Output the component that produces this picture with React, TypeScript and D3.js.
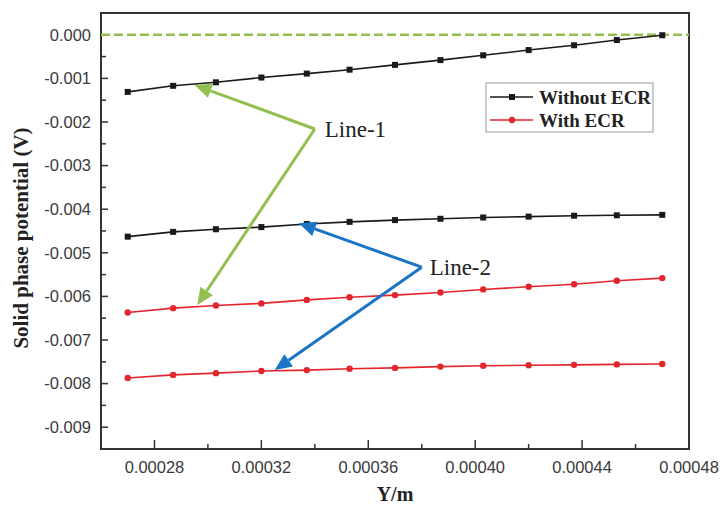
import React, { useEffect, useRef } from "react";
import * as d3 from "d3";

/* DATA */
const yPos = [
  0.00027, 0.000287, 0.000303, 0.00032, 0.000337, 0.000353, 0.00037,
  0.000387, 0.000403, 0.00042, 0.000437, 0.000453, 0.00047,
];
const withoutEcrLine1 = [
  -0.00131, -0.00117, -0.00109, -0.00098, -0.00089, -0.0008, -0.00069,
  -0.00058, -0.00047, -0.00035, -0.00024, -0.00012, -0.00001,
];
const withoutEcrLine2 = [
  -0.00463, -0.00452, -0.00446, -0.00441, -0.00434, -0.00429, -0.00425,
  -0.00422, -0.00419, -0.00417, -0.00415, -0.00414, -0.00413,
];
const withEcrLine1 = [
  -0.00637, -0.00627, -0.00621, -0.00616, -0.00608, -0.00602, -0.00597,
  -0.00591, -0.00584, -0.00578, -0.00572, -0.00564, -0.00558,
];
const withEcrLine2 = [
  -0.00787, -0.0078, -0.00776, -0.00771, -0.00769, -0.00766, -0.00764,
  -0.00761, -0.00759, -0.00758, -0.00757, -0.00756, -0.00755,
];
const xTicks = [0.00028, 0.00032, 0.00036, 0.0004, 0.00044, 0.00048];
const yTicks = [
  0, -0.001, -0.002, -0.003, -0.004, -0.005, -0.006, -0.007, -0.008, -0.009,
];
const legendLabels = ["Without ECR", "With ECR"];

// annotation arrows, in data units: [vertex, tipA, tipB]
const line1Arrow = [
  [0.00034, -0.00216],
  [0.000295, -0.00115],
  [0.000296, -0.0062],
];
const line2Arrow = [
  [0.00038, -0.00533],
  [0.000334, -0.00432],
  [0.000325, -0.00769],
];

const BLACK = "#1a1a1a";
const RED = "#e3262e";
const GREEN = "#92c050";
const BLUE = "#1b74c6";

function App() {
  const chartRef = useRef(null);

  useEffect(() => {
    const svg = d3.select(chartRef.current);
    svg.selectAll("*").remove();

    const margin = { top: 13, left: 101, right: 31, bottom: 58 };
    const width = 720;
    const height = 507;

    const x = d3
      .scaleLinear()
      .domain([0.00026, 0.00048])
      .range([margin.left, width - margin.right]);
    const y = d3
      .scaleLinear()
      .domain([-0.0095, 0.0005])
      .range([height - margin.bottom, margin.top]);

    const bottom = height - margin.bottom;

    // frame
    svg
      .append("rect")
      .attr("x", margin.left)
      .attr("y", margin.top)
      .attr("width", width - margin.left - margin.right)
      .attr("height", bottom - margin.top)
      .attr("fill", "none")
      .attr("stroke", "#333")
      .attr("stroke-width", 2);

    // x axis ticks (inward)
    const xAxis = svg.append("g");
    const xMinor = d3.range(0.0003, 0.00048, 0.00004);
    xAxis
      .selectAll("line.maj")
      .data(xTicks.slice(0, -1))
      .enter()
      .append("line")
      .attr("x1", (d) => x(d))
      .attr("x2", (d) => x(d))
      .attr("y1", bottom)
      .attr("y2", bottom - 9)
      .attr("stroke", "#333")
      .attr("stroke-width", 1.5);
    xAxis
      .selectAll("line.min")
      .data(xMinor)
      .enter()
      .append("line")
      .attr("x1", (d) => x(d))
      .attr("x2", (d) => x(d))
      .attr("y1", bottom)
      .attr("y2", bottom - 5)
      .attr("stroke", "#333")
      .attr("stroke-width", 1.5);
    xAxis
      .selectAll("text")
      .data(xTicks)
      .enter()
      .append("text")
      .attr("x", (d) => x(d))
      .attr("y", bottom + 24)
      .attr("text-anchor", "middle")
      .attr("font-family", "Liberation Sans, Arial, sans-serif")
      .attr("font-size", 16.5)
      .attr("fill", "#3a3a3a")
      .text((d) => d.toFixed(5));

    // y axis ticks (inward)
    const yAxis = svg.append("g");
    const yMinor = d3.range(-0.0085, 0.0005, 0.001);
    yAxis
      .selectAll("line.maj")
      .data(yTicks)
      .enter()
      .append("line")
      .attr("x1", margin.left)
      .attr("x2", margin.left + 7)
      .attr("y1", (d) => y(d))
      .attr("y2", (d) => y(d))
      .attr("stroke", "#333")
      .attr("stroke-width", 1.5);
    yAxis
      .selectAll("line.min")
      .data(yMinor)
      .enter()
      .append("line")
      .attr("x1", margin.left)
      .attr("x2", margin.left + 5)
      .attr("y1", (d) => y(d))
      .attr("y2", (d) => y(d))
      .attr("stroke", "#333")
      .attr("stroke-width", 1.5);
    yAxis
      .selectAll("text")
      .data(yTicks)
      .enter()
      .append("text")
      .attr("x", margin.left - 10)
      .attr("y", (d) => y(d))
      .attr("dy", "0.35em")
      .attr("text-anchor", "end")
      .attr("font-family", "Liberation Sans, Arial, sans-serif")
      .attr("font-size", 16.5)
      .attr("fill", "#3a3a3a")
      .text((d) => (d === 0 ? "0.000" : d.toFixed(3)));

    // titles
    svg
      .append("text")
      .attr("x", (margin.left + width - margin.right) / 2)
      .attr("y", 501)
      .attr("text-anchor", "middle")
      .attr("font-family", "Liberation Serif, Times New Roman, serif")
      .attr("font-weight", "bold")
      .attr("font-size", 20)
      .attr("fill", "#222")
      .text("Y/m");
    svg
      .append("text")
      .attr("transform", "translate(28,238) rotate(-90)")
      .attr("text-anchor", "middle")
      .attr("font-family", "Liberation Serif, Times New Roman, serif")
      .attr("font-weight", "bold")
      .attr("font-size", 21)
      .attr("fill", "#222")
      .text("Solid phase potential (V)");

    // zero reference dashed line
    svg
      .append("line")
      .attr("x1", margin.left)
      .attr("x2", width - margin.right)
      .attr("y1", y(0))
      .attr("y2", y(0))
      .attr("stroke", GREEN)
      .attr("stroke-width", 2.5)
      .attr("stroke-dasharray", "9,4");

    const line = d3
      .line<number>()
      .x((d, i) => x(yPos[i]))
      .y((d) => y(d));

    const drawSeries = (vals: number[], color: string, square: boolean) => {
      const g = svg.append("g");
      g.append("path")
        .attr("d", line(vals))
        .attr("fill", "none")
        .attr("stroke", color)
        .attr("stroke-width", 1.6);
      if (square) {
        g.selectAll("rect")
          .data(vals)
          .enter()
          .append("rect")
          .attr("x", (d, i) => x(yPos[i]) - 3)
          .attr("y", (d) => y(d) - 3)
          .attr("width", 6)
          .attr("height", 6)
          .attr("fill", color);
      } else {
        g.selectAll("circle")
          .data(vals)
          .enter()
          .append("circle")
          .attr("cx", (d, i) => x(yPos[i]))
          .attr("cy", (d) => y(d))
          .attr("r", 3.2)
          .attr("fill", color);
      }
    };

    drawSeries(withoutEcrLine1, BLACK, true);
    drawSeries(withoutEcrLine2, BLACK, true);
    drawSeries(withEcrLine1, RED, false);
    drawSeries(withEcrLine2, RED, false);

    // annotation arrows
    const drawArrow = (pts: number[][], color: string, label: string, dx: number, dy: number) => {
      const [vx, vy] = [x(pts[0][0]), y(pts[0][1])];
      const g = svg.append("g");
      pts.slice(1).forEach((p) => {
        const tx = x(p[0]);
        const ty = y(p[1]);
        const ang = Math.atan2(ty - vy, tx - vx);
        const len = 17;
        const hw = 7.5;
        const bx = tx - len * Math.cos(ang);
        const by = ty - len * Math.sin(ang);
        g.append("line")
          .attr("x1", vx)
          .attr("y1", vy)
          .attr("x2", bx)
          .attr("y2", by)
          .attr("stroke", color)
          .attr("stroke-width", 3);
        const px = -Math.sin(ang);
        const py = Math.cos(ang);
        g.append("path")
          .attr(
            "d",
            `M${tx},${ty}L${bx + hw * px},${by + hw * py}L${bx - hw * px},${by - hw * py}Z`
          )
          .attr("fill", color);
      });
      g.append("text")
        .attr("x", vx + dx)
        .attr("y", vy + dy)
        .attr("font-family", "Liberation Serif, Times New Roman, serif")
        .attr("font-size", 23)
        .attr("fill", "#222")
        .text(label);
    };

    drawArrow(line1Arrow, GREEN, "Line-1", 10, 8);
    drawArrow(line2Arrow, BLUE, "Line-2", 8, 8);

    // legend
    const lg = svg.append("g");
    lg.append("rect")
      .attr("x", 486)
      .attr("y", 83)
      .attr("width", 167)
      .attr("height", 49)
      .attr("fill", "white")
      .attr("stroke", "#999")
      .attr("stroke-width", 1);
    legendLabels.forEach((lab, i) => {
      const ly = 97 + i * 23;
      const color = i === 0 ? BLACK : RED;
      lg.append("line")
        .attr("x1", 490)
        .attr("x2", 533)
        .attr("y1", ly)
        .attr("y2", ly)
        .attr("stroke", color)
        .attr("stroke-width", 1.6);
      if (i === 0) {
        lg.append("rect")
          .attr("x", 509)
          .attr("y", ly - 3)
          .attr("width", 6)
          .attr("height", 6)
          .attr("fill", color);
      } else {
        lg.append("circle")
          .attr("cx", 512)
          .attr("cy", ly)
          .attr("r", 3.2)
          .attr("fill", color);
      }
      lg.append("text")
        .attr("x", 539)
        .attr("y", ly)
        .attr("dy", "0.35em")
        .attr("font-family", "Liberation Serif, Times New Roman, serif")
        .attr("font-weight", "bold")
        .attr("font-size", 19)
        .attr("fill", "#222")
        .text(lab);
    });
  }, []);

  return (
    <svg
      ref={chartRef}
      width={720}
      height={507}
      style={{ position: "absolute", left: 0, top: 0, background: "white" }}
    />
  );
}

export default App;
